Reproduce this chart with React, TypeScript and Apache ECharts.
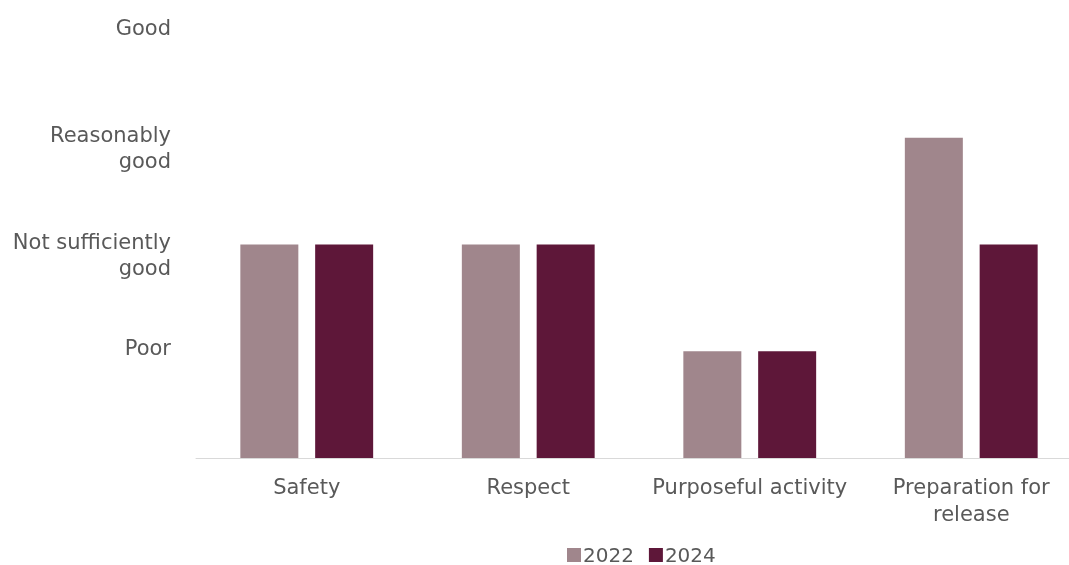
import React, { useEffect, useRef } from "react";
import * as echarts from "echarts";

const categories = ["Safety", "Respect", "Purposeful activity", "Preparation for\nrelease"];
const ratingLabels = ["", "Poor", "Not sufficiently\ngood", "Reasonably\ngood", "Good"];
const values2022 = [2, 2, 1, 3];
const values2024 = [2, 2, 1, 2];

export default function App() {
  const ref = useRef<HTMLDivElement>(null);
  useEffect(() => {
    if (!ref.current) return;
    const chart = echarts.init(ref.current, null, { renderer: "svg" });
    const font = "'DejaVu Sans', sans-serif";
    chart.setOption({
      animation: false,
      textStyle: { fontFamily: font },
      grid: { left: 196, top: 31, bottom: 107, width: 886, containLabel: false, outerBoundsMode: "none" },
      legend: {
        data: ["2022", "2024"],
        left: 567,
        top: 545,
        padding: 0,
        itemWidth: 14,
        itemHeight: 14,
        itemGap: 15,
        icon: "rect",
        textStyle: { fontSize: 20, lineHeight: 16, color: "#595959", fontFamily: font, padding: [0, 0, 0, -3] },
      },
      xAxis: {
        type: "category",
        data: categories,
        axisLine: { lineStyle: { color: "#d9d9d9", width: 1 } },
        axisTick: { show: false },
        axisLabel: { fontSize: 21, color: "#595959", lineHeight: 27, margin: 15, fontFamily: font, interval: 0 },
      },
      yAxis: {
        type: "value",
        min: 0,
        max: 4,
        interval: 1,
        splitLine: { show: false },
        axisLine: { show: false },
        axisTick: { show: false },
        axisLabel: {
          fontSize: 21,
          color: "#595959",
          lineHeight: 26,
          margin: 25,
          fontFamily: font,
          align: "right",
          verticalAlign: "middle",
          rich: {
            s1: { fontSize: 4, lineHeight: 32 },
            s2: { fontSize: 4, lineHeight: 6 },
          },
          formatter: (v: number) => {
            const s = ratingLabels[v] || "";
            if (!s) return "";
            return s.indexOf("\n") >= 0 ? " \n" + s + "\n{s2| }" : " \n" + s + "\n{s1| }";
          },
        },
      },
      series: [
        {
          name: "2022",
          type: "bar",
          data: values2022,
          barWidth: 58,
          barGap: "29%",
          itemStyle: { color: "#a0868c" },
        },
        {
          name: "2024",
          type: "bar",
          data: values2024,
          barWidth: 58,
          itemStyle: { color: "#5e1739" },
        },
      ],
    });
    return () => chart.dispose();
  }, []);
  return <div ref={ref} style={{ position: "fixed", left: 0, top: 0, width: 1069, height: 565 }} />;
}
